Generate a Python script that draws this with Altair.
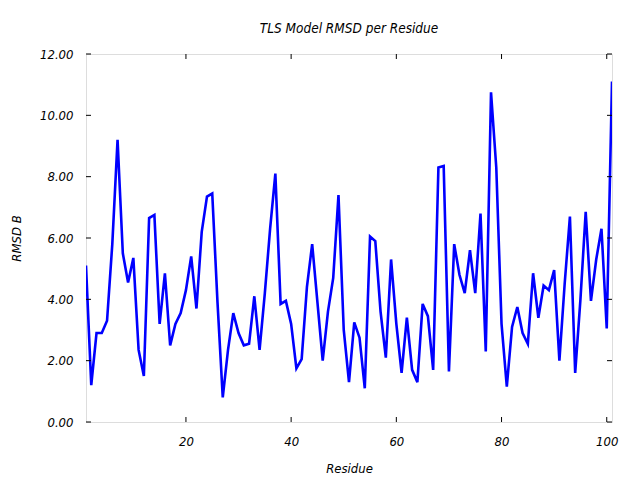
import altair as alt
import pandas as pd

residues = list(range(1, 102))
rmsd = [
    5.1, 1.2, 2.9, 2.9, 3.3, 5.8, 9.2, 5.5, 4.55, 5.35,
    2.35, 1.5, 6.65, 6.75, 3.2, 4.85, 2.5, 3.2, 3.55, 4.3,
    5.4, 3.7, 6.2, 7.35, 7.45, 3.9, 0.8, 2.35, 3.55, 2.9,
    2.5, 2.55, 4.1, 2.35, 4.2, 6.3, 8.1, 3.85, 3.95, 3.2,
    1.75, 2.05, 4.4, 5.8, 3.9, 2.0, 3.6, 4.7, 7.4, 3.0,
    1.3, 3.25, 2.75, 1.1, 6.05, 5.9, 3.6, 2.1, 5.3, 3.2,
    1.6, 3.4, 1.7, 1.3, 3.85, 3.45, 1.7, 8.3, 8.35, 1.65,
    5.8, 4.8, 4.2, 5.6, 4.2, 6.8, 2.3, 10.75, 8.3, 3.2,
    1.15, 3.1, 3.75, 2.9, 2.55, 4.85, 3.4, 4.45, 4.3, 4.95,
    2.0, 4.5, 6.7, 1.6, 4.0, 6.85, 3.95, 5.3, 6.3, 3.05,
    11.1,
]
x_ticks = [20, 40, 60, 80, 100]
y_ticks = [0, 2, 4, 6, 8, 10, 12]

FONT = "DejaVu Sans Condensed, DejaVu Sans"
FS = 13
W, H = 526, 368
TICK = 5

df = pd.DataFrame({"Residue": residues, "RMSD": rmsd})
xt = pd.DataFrame({"Residue": x_ticks})
yt = pd.DataFrame({"RMSD": y_ticks})

xscale = alt.Scale(domain=[1, 101], nice=False, zero=False)
yscale = alt.Scale(domain=[0, 12], nice=False)

axis_common = dict(
    ticks=False, domain=False, grid=False,
    labelFont=FONT, labelFontStyle="italic", labelFontSize=FS, labelColor="black",
    titleFont=FONT, titleFontStyle="italic", titleFontWeight="normal",
    titleFontSize=FS, titleColor="black",
)
xaxis = alt.Axis(values=x_ticks, title="Residue", labelPadding=13,
                 titlePadding=14, **axis_common)
yaxis = alt.Axis(values=y_ticks, format=".2f", title="RMSD B",
                 labelPadding=13, titlePadding=16, **axis_common)

line = alt.Chart(df).mark_line(color="#0000ff", strokeWidth=2.6, clip=True).encode(
    x=alt.X("Residue:Q", scale=xscale, axis=xaxis),
    y=alt.Y("RMSD:Q", scale=yscale, axis=yaxis),
)

bottom = alt.Chart(xt).mark_rule(color="black", strokeWidth=1).encode(
    x=alt.X("Residue:Q", scale=xscale, axis=xaxis),
    y=alt.value(H), y2=alt.value(H - TICK))
top = alt.Chart(xt).mark_rule(color="black", strokeWidth=1).encode(
    x=alt.X("Residue:Q", scale=xscale, axis=xaxis),
    y=alt.value(0), y2=alt.value(TICK))
left = alt.Chart(yt).mark_rule(color="black", strokeWidth=1).encode(
    y=alt.Y("RMSD:Q", scale=yscale, axis=yaxis),
    x=alt.value(0), x2=alt.value(TICK))
right = alt.Chart(yt).mark_rule(color="black", strokeWidth=1).encode(
    y=alt.Y("RMSD:Q", scale=yscale, axis=yaxis),
    x=alt.value(W), x2=alt.value(W - TICK))

chart = alt.layer(line, bottom, top, left, right).properties(
    width=W, height=H,
    title=alt.Title("TLS Model RMSD per Residue", font=FONT, fontStyle="italic",
                    fontWeight="normal", fontSize=FS + 0.5, color="black", offset=13),
    autosize=alt.AutoSizeParams(type="none"),
    padding={"left": 78, "top": 46, "right": 16, "bottom": 58},
).configure_view(stroke="black", strokeWidth=1).configure(background="white")

chart.save("out.html", embed_options={"renderer": "svg", "actions": False})
